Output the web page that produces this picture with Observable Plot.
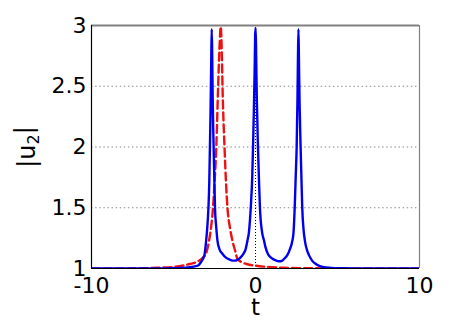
<!DOCTYPE html>
<html>
<head>
<meta charset="utf-8">
<script src="https://cdn.jsdelivr.net/npm/d3@7"></script>
<script src="https://cdn.jsdelivr.net/npm/@observablehq/plot@0.6"></script>
<style>
  html, body { margin: 0; padding: 0; background: #fff; }
</style>
</head>
<body>
<div id="chart"></div>
<script>
// Blue solid curve |u2| (three peaks)
const blueT = [-10, -6, -5, -4.6, -4.3, -4.0, -3.7, -3.5, -3.34, -3.2, -3.1, -3.03, -2.95, -2.87, -2.82, -2.78, -2.74, -2.70, -2.67, -2.64, -2.61, -2.57, -2.52, -2.47, -2.40, -2.32, -2.2, -2.01, -1.8, -1.6, -1.41, -1.25, -1.1, -0.95, -0.85, -0.74, -0.6, -0.49, -0.4, -0.29, -0.2, -0.15, -0.1, -0.05, -0.02, 0.01, 0.04, 0.08, 0.14, 0.2, 0.27, 0.4, 0.52, 0.6, 0.76, 0.9, 1.1, 1.25, 1.43, 1.6, 1.75, 1.94, 2.1, 2.25, 2.32, 2.39, 2.45, 2.51, 2.56, 2.59, 2.62, 2.65, 2.69, 2.75, 2.8, 2.85, 2.93, 3.01, 3.12, 3.26, 3.45, 3.7, 4.17, 4.6, 5.2, 6, 10];
const blueU = [1.0, 1.001, 1.002, 1.004, 1.006, 1.01, 1.018, 1.025, 1.05, 1.08, 1.12, 1.2, 1.32, 1.5, 1.7, 2.0, 2.3, 2.7, 2.97, 2.75, 2.4, 2.1, 1.8, 1.5, 1.35, 1.23, 1.16, 1.12, 1.09, 1.075, 1.065, 1.065, 1.072, 1.085, 1.1, 1.12, 1.16, 1.23, 1.3, 1.5, 1.75, 2.0, 2.3, 2.65, 2.92, 2.98, 2.75, 2.4, 2.05, 1.78, 1.5, 1.3, 1.23, 1.18, 1.12, 1.095, 1.075, 1.066, 1.06, 1.062, 1.08, 1.11, 1.16, 1.23, 1.3, 1.5, 1.75, 2.0, 2.4, 2.75, 2.97, 2.7, 2.35, 2.0, 1.75, 1.5, 1.32, 1.23, 1.16, 1.11, 1.065, 1.035, 1.01, 1.005, 1.002, 1.001, 1.0];

// Red dashed curve (single peak)
const redT = [-10, -7, -6, -5, -4.4, -4.0, -3.5, -3.2, -3.0, -2.83, -2.7, -2.59, -2.5, -2.39, -2.28, -2.2, -2.12, -2.05, -2.01, -1.89, -1.71, -1.55, -1.41, -1.25, -1.1, -0.8, -0.5, -0.1, 0.5, 1.0, 1.73, 3, 10];
const redU = [1.0, 1.002, 1.006, 1.013, 1.025, 1.037, 1.06, 1.09, 1.13, 1.23, 1.35, 1.5, 1.7, 2.0, 2.49, 2.8, 2.99, 2.75, 2.49, 2.0, 1.5, 1.33, 1.23, 1.15, 1.08, 1.05, 1.035, 1.025, 1.015, 1.01, 1.006, 1.002, 1.0];

const xTicks = [-10, 0, 10];
const yTicks = [1, 1.5, 2, 2.5, 3];
const yGrid = [1.5, 2, 2.5];
const xGrid = [0];

const blue = blueT.map((t, i) => ({t, u: blueU[i]}));
const red = redT.map((t, i) => ({t, u: redU[i]}));

const svg = Plot.plot({
  width: 463,
  height: 327,
  marginLeft: 91,
  marginRight: 44,
  marginTop: 25,
  marginBottom: 59,
  style: {fontFamily: "DejaVu Sans", fontSize: "22px", background: "#fff", color: "#000"},
  x: {domain: [-10, 10], label: null},
  y: {domain: [1, 3], label: null},
  marks: [
    Plot.ruleY(yGrid, {stroke: "#8a8a8a", strokeWidth: 1.2, strokeDasharray: "1.5,2.6"}),
    Plot.ruleX(xGrid, {stroke: "#000", strokeWidth: 1, strokeDasharray: "1,2"}),
    Plot.line(red, {x: "t", y: "u", stroke: "#ee1111", strokeWidth: 2.4, strokeDasharray: "8,4", curve: "monotone-x", clip: true}),
    Plot.line(blue, {x: "t", y: "u", stroke: "#0000ee", strokeWidth: 2.4, curve: "monotone-x", clip: true}),
    Plot.ruleY([3], {stroke: "#808080", strokeWidth: 2}),
    Plot.ruleX([10], {stroke: "#808080", strokeWidth: 1.2}),
    Plot.ruleX([-10], {stroke: "#000", strokeWidth: 1.2}),
    Plot.ruleY([1], {stroke: "#000", strokeWidth: 1.2}),
    Plot.axisX(xTicks, {tickSize: 0, tickPadding: 9, tickFormat: d => String(d), label: null, fontSize: 22}),
    Plot.axisY(yTicks, {tickSize: 0, tickPadding: 5, tickFormat: d => String(d), label: null, fontSize: 22}),
    Plot.text(["t"], {frameAnchor: "bottom", dy: 46, text: d => d, fontSize: 23})
  ]
});

const lab = d3.select(svg).append("text")
  .attr("transform", "translate(27,147) rotate(-90)")
  .attr("text-anchor", "middle")
  .attr("dominant-baseline", "central")
  .attr("font-family", "DejaVu Sans")
  .attr("font-size", 24)
  .attr("fill", "#000");
lab.append("tspan").text("|u");
lab.append("tspan").attr("font-size", 16).attr("dy", "0.35em").text("2");
lab.append("tspan").attr("dy", "-0.35em").text("|");

document.getElementById("chart").appendChild(svg);
</script>
</body>
</html>
